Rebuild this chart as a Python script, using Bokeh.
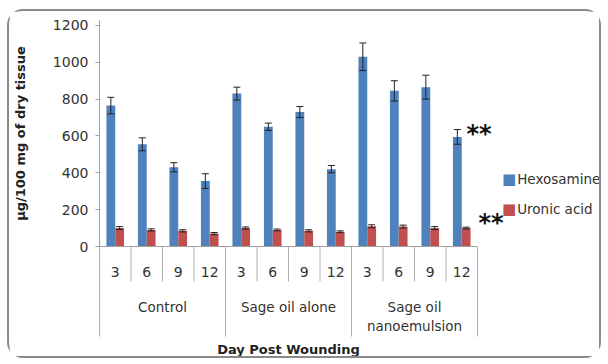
from bokeh.plotting import figure
from bokeh.models import (FactorRange, ColumnDataSource, Whisker, TeeHead,
                          Range1d, FixedTicker)
from bokeh.transform import dodge
from bokeh.core.properties import value
from bokeh.embed import file_html
from bokeh.resources import INLINE

# ---- data ----
groups = ["Control", "Sage oil alone", "Sage oil\nnanoemulsion"]
days = ["3", "6", "9", "12"]
hexosamine = [765, 555, 430, 355, 830, 650, 730, 420, 1030, 845, 865, 595]
hexosamine_err = [45, 35, 25, 40, 35, 20, 30, 20, 75, 55, 65, 40]
uronic = [100, 90, 85, 70, 100, 90, 85, 80, 110, 108, 100, 100]
uronic_err = [8, 6, 6, 6, 6, 5, 6, 5, 8, 8, 8, 5]
y_ticks = [0, 200, 400, 600, 800, 1000, 1200]
series_names = ["Hexosamine", "Uronic acid"]
colors = ["#4F81BD", "#C0504D"]
mark = "**"

FONT = "DejaVu Sans"
factors = [(g, d) for g in groups for d in days]

src = ColumnDataSource(dict(
    x=factors,
    hex=hexosamine,
    hex_up=[v + e for v, e in zip(hexosamine, hexosamine_err)],
    hex_lo=[v - e for v, e in zip(hexosamine, hexosamine_err)],
    uro=uronic,
    uro_up=[v + e for v, e in zip(uronic, uronic_err)],
    uro_lo=[v - e for v, e in zip(uronic, uronic_err)],
))

p = figure(width=594, height=349, output_backend="svg", toolbar_location=None,
           x_range=FactorRange(*factors, factor_padding=0, group_padding=0, range_padding=0),
           y_range=Range1d(0, 1227),
           min_border_left=89, min_border_right=126, min_border_top=9, min_border_bottom=114)
p.styles = {"margin-left": "7px", "margin-top": "9px",
            "border": "2px solid #8a8a8a", "border-radius": "16px"}
p.outline_line_color = None
p.xgrid.visible = False
p.ygrid.visible = False
p.background_fill_color = "white"

off = 0.14
bw = 0.28
p.vbar(x=dodge("x", -off, range=p.x_range), top="hex", width=bw, source=src,
       fill_color=colors[0], line_color=None)
p.vbar(x=dodge("x", off, range=p.x_range), top="uro", width=bw, source=src,
       fill_color=colors[1], line_color=None)

for key, o in (("hex", -off), ("uro", off)):
    w = Whisker(base=dodge("x", o, range=p.x_range), upper=key + "_up", lower=key + "_lo",
                source=src, line_color="#222222", line_width=1, level="overlay",
                upper_head=TeeHead(size=7, line_color="#222222", line_width=1),
                lower_head=TeeHead(size=7, line_color="#222222", line_width=1))
    p.add_layout(w)

# category separators below the axis
sx, sy0, sy1 = [], [], []
for g, d in factors:
    sx.append((g, d, -0.5))
    sy0.append(0)
    sy1.append(-489 if d == days[0] else -190)
sx.append((factors[-1][0], factors[-1][1], 0.5))
sy0.append(0)
sy1.append(-489)
p.segment(x0=sx, y0=sy0, x1=sx, y1=sy1, line_color="#b0b0b0", line_width=1, level="overlay")

last_g, last_d = factors[-1]

# significance marks
p.text(x=[(last_g, last_d, 0.15), (last_g, last_d, 0.53)],
       y=[hexosamine[-1] + hexosamine_err[-1], uronic[-1] + uronic_err[-1]],
       text=[mark, mark], y_offset=[4, -4],
       text_font=value(FONT), text_font_size="24px", text_font_style="bold",
       text_align="left", text_baseline="middle", text_color="#111111", level="overlay")

# legend (drawn beside the plot area)
leg_y = [369, 206]
p.text(x=[(last_g, last_d, 1.5)] * 2, y=leg_y, text=["\u25A0", "\u25A0"],
       text_font=value(FONT), text_font_size="15px", text_align="center",
       text_baseline="middle", text_color=colors, level="overlay")
p.text(x=[(last_g, last_d, 1.76)] * 2, y=leg_y, text=series_names,
       text_font=value(FONT), text_font_size="13.5px", text_align="left",
       text_baseline="middle", text_color="#333333", level="overlay")

# axes
ya = p.yaxis[0]
ya.ticker = FixedTicker(ticks=y_ticks)
ya.axis_line_color = "#a0a0a0"
ya.major_tick_line_color = "#a0a0a0"
ya.major_tick_out = 4
ya.major_tick_in = 0
ya.minor_tick_line_color = None
ya.major_label_standoff = 7
ya.major_label_text_font = FONT
ya.major_label_text_font_size = "14px"
ya.major_label_text_color = "#333333"
ya.axis_label = "µg/100 mg of dry tissue"
ya.axis_label_text_font = FONT
ya.axis_label_text_font_size = "13px"
ya.axis_label_text_font_style = "bold"
ya.axis_label_text_color = "#222222"
ya.axis_label_standoff = 22

xa = p.xaxis[0]
xa.axis_line_color = "#a0a0a0"
xa.major_tick_line_color = None
xa.major_tick_out = 1
xa.major_tick_in = 0
xa.minor_tick_line_color = None
xa.separator_line_color = None
xa.major_label_standoff = 19
xa.major_label_text_font = FONT
xa.major_label_text_font_size = "14px"
xa.major_label_text_color = "#333333"
xa.group_text_font = FONT
xa.group_text_font_size = "13.5px"
xa.group_text_font_style = "normal"
xa.group_text_color = "#333333"
xa.axis_label = "Day Post Wounding"
xa.axis_label_text_font = FONT
xa.axis_label_text_font_size = "13px"
xa.axis_label_text_font_style = "bold"
xa.axis_label_text_color = "#222222"
xa.axis_label_standoff = 5

open("out.html", "w").write(file_html(p, INLINE))
